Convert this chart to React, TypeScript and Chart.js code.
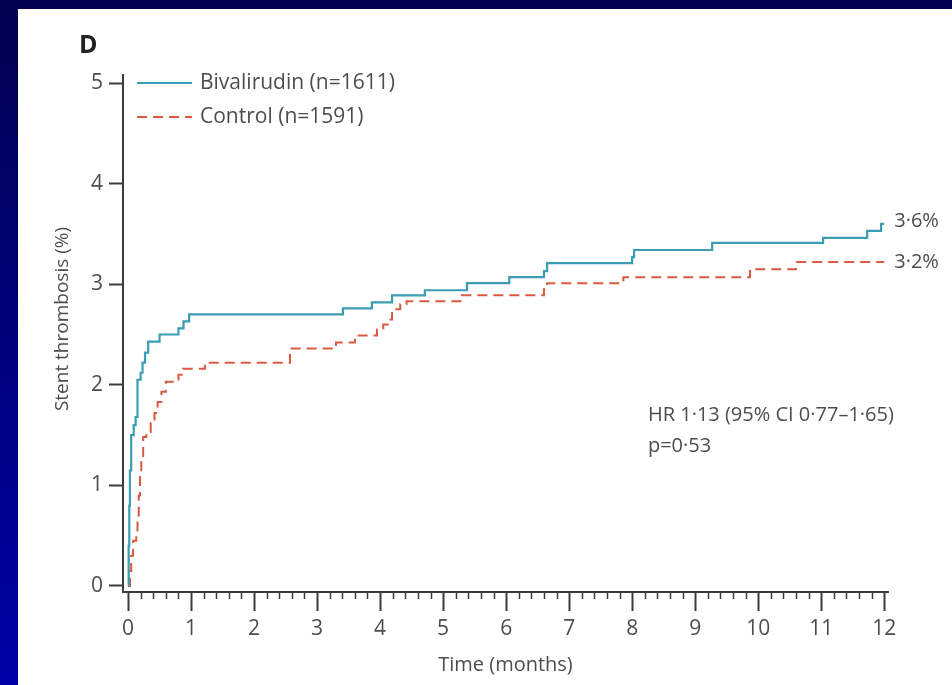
import React, { useEffect, useRef } from "react";
import { Chart, registerables } from "chart.js";

Chart.register(...registerables);

// ---- Data ----
const bivTimes = [0, 0.01, 0.02, 0.03, 0.05, 0.09, 0.12, 0.15, 0.2, 0.23, 0.27, 0.32, 0.5, 0.8, 0.88, 0.97, 3.41, 3.87, 4.19, 4.71, 5.38, 6.05, 6.6, 6.65, 8.0, 8.03, 9.27, 11.03, 11.73, 11.95, 12];
const bivValues = [0, 0.4, 0.8, 1.15, 1.5, 1.6, 1.68, 2.05, 2.12, 2.22, 2.32, 2.43, 2.5, 2.56, 2.63, 2.7, 2.76, 2.82, 2.89, 2.94, 3.01, 3.07, 3.13, 3.21, 3.27, 3.34, 3.41, 3.46, 3.53, 3.6, 3.6];
const ctlTimes = [0, 0.03, 0.05, 0.08, 0.13, 0.15, 0.17, 0.19, 0.21, 0.24, 0.29, 0.36, 0.42, 0.47, 0.53, 0.6, 0.8, 0.87, 1.22, 2.57, 3.3, 3.6, 3.95, 4.05, 4.12, 4.19, 4.32, 4.42, 5.3, 6.6, 6.65, 7.86, 9.87, 10.6, 12];
const ctlValues = [0, 0.15, 0.3, 0.45, 0.53, 0.7, 0.9, 1.1, 1.25, 1.48, 1.53, 1.62, 1.72, 1.83, 1.93, 2.03, 2.1, 2.16, 2.22, 2.36, 2.42, 2.49, 2.55, 2.6, 2.65, 2.75, 2.8, 2.83, 2.89, 2.95, 3.01, 3.07, 3.15, 3.22, 3.22];

const seriesLabels = ["Bivalirudin (n=1611)", "Control (n=1591)"];
const endLabels = ["3·6%", "3·2%"];
const statLines = ["HR 1·13 (95% CI 0·77–1·65)", "p=0·53"];
const panelLetter = "D";
const xTickValues = [0, 1, 2, 3, 4, 5, 6, 7, 8, 9, 10, 11, 12];
const yTickValues = [0, 1, 2, 3, 4, 5];
const xTitle = "Time (months)";
const yTitle = "Stent thrombosis (%)";
const minorTickStep = 0.2;

// ---- Style ----
const FONT = "'Open Sans', 'DejaVu Sans', sans-serif";
const TEXT = "#4d4d4d";
const AXIS = "#3c3c3c";
const TEAL = "#3a9db2";
const RED = "#d95a40";

const decorPlugin = {
  id: "decor",
  afterDraw(chart: any) {
    const ctx = chart.ctx as CanvasRenderingContext2D;
    const xs = chart.scales.x;
    const ys = chart.scales.y;
    const ca = chart.chartArea;
    ctx.save();

    // minor x ticks
    ctx.strokeStyle = AXIS;
    ctx.lineWidth = 1.5;
    ctx.beginPath();
    for (let v = 0; v < 12 - 1e-6; v += minorTickStep) {
      if (Math.abs(v - Math.round(v)) < 1e-6) continue;
      const px = Math.round(xs.getPixelForValue(v)) + 0.5;
      ctx.moveTo(px, xs.top);
      ctx.lineTo(px, xs.top + 7);
    }
    ctx.stroke();

    // legend (inside plot)
    ctx.font = `21px ${FONT}`;
    ctx.textBaseline = "middle";
    ctx.textAlign = "left";
    chart.data.datasets.forEach((ds: any, i: number) => {
      const y = ca.top + 8 + i * 34;
      ctx.beginPath();
      ctx.strokeStyle = ds.borderColor;
      ctx.lineWidth = 2;
      ctx.setLineDash(ds.borderDash || []);
      ctx.moveTo(ca.left + 14, y);
      ctx.lineTo(ca.left + 69, y);
      ctx.stroke();
      ctx.setLineDash([]);
      ctx.fillStyle = TEXT;
      ctx.fillText(ds.label, ca.left + 77, y);
    });

    // end labels
    ctx.font = `20px ${FONT}`;
    const ends = [bivValues[bivValues.length - 1], ctlValues[ctlValues.length - 1]];
    endLabels.forEach((t, i) => {
      const y = ys.getPixelForValue(ends[i]) - 3 + i * 3;
      ctx.fillText(t, xs.getPixelForValue(12) + 10, y);
    });

    // statistics text
    ctx.font = `20px ${FONT}`;
    statLines.forEach((t, i) => {
      ctx.fillText(t, xs.getPixelForValue(8.25), ys.getPixelForValue(1.7) + i * 31);
    });

    // panel letter
    ctx.font = `bold 25px ${FONT}`;
    ctx.fillStyle = "#222";
    ctx.fillText(panelLetter, 79, 46);

    // y title
    ctx.save();
    ctx.translate(63, 319);
    ctx.rotate(-Math.PI / 2);
    ctx.textAlign = "center";
    ctx.font = `19px ${FONT}`;
    ctx.fillStyle = TEXT;
    ctx.fillText(yTitle, 0, 0);
    ctx.restore();

    ctx.restore();
  },
};

export default function App() {
  const ref = useRef<HTMLCanvasElement | null>(null);

  useEffect(() => {
    if (!ref.current) return;
    const chart = new Chart(ref.current, {
      type: "line",
      data: {
        datasets: [
          {
            label: seriesLabels[0],
            data: bivTimes.map((t, i) => ({ x: t, y: bivValues[i] })),
            borderColor: TEAL,
            borderWidth: 2.2,
            pointRadius: 0,
            stepped: "before",
            fill: false,
          },
          {
            label: seriesLabels[1],
            data: ctlTimes.map((t, i) => ({ x: t, y: ctlValues[i] })),
            borderColor: RED,
            borderWidth: 2,
            borderDash: [10, 6],
            pointRadius: 0,
            stepped: "before",
            fill: false,
          },
        ],
      },
      options: {
        animation: false,
        responsive: false,
        maintainAspectRatio: false,
        layout: { padding: { left: 0, right: 64, top: 75, bottom: 0 } },
        plugins: { legend: { display: false }, tooltip: { enabled: false }, title: { display: false } },
        scales: {
          x: {
            type: "linear",
            min: -0.08,
            max: 12.06,
            afterBuildTicks: (s: any) => {
              s.ticks = xTickValues.map((v) => ({ value: v }));
            },
            afterFit: (s: any) => {
              s.height = 93;
            },
            ticks: {
              autoSkip: false,
              maxRotation: 0,
              padding: 5,
              color: TEXT,
              font: { family: FONT, size: 21 },
            },
            grid: { drawOnChartArea: false, drawTicks: true, tickLength: 19, tickColor: AXIS, tickWidth: 2 },
            border: { display: true, color: AXIS, width: 2 },
            title: {
              display: true,
              text: xTitle,
              color: TEXT,
              font: { family: FONT, size: 20 },
              padding: { top: 0, bottom: 8 },
            },
          },
          y: {
            type: "linear",
            min: -0.06,
            max: 5.08,
            afterBuildTicks: (s: any) => {
              s.ticks = yTickValues.map((v) => ({ value: v }));
            },
            afterFit: (s: any) => {
              s.width = 123;
            },
            ticks: {
              autoSkip: false,
              padding: 6,
              color: TEXT,
              font: { family: FONT, size: 21 },
            },
            grid: { drawOnChartArea: false, drawTicks: true, tickLength: 14, tickColor: AXIS, tickWidth: 2 },
            border: { display: true, color: AXIS, width: 2 },
          },
        },
      },
      plugins: [decorPlugin],
    });
    return () => chart.destroy();
  }, []);

  return (
    <div
      style={{
        position: "fixed",
        left: 0,
        top: 0,
        width: 952,
        height: 685,
        background: "linear-gradient(180deg, #00004e 0%, #000080 55%, #0000a6 100%)",
        overflow: "hidden",
      }}
    >
      <div style={{ position: "absolute", left: 18, top: 9, right: 0, bottom: 0, background: "#ffffff" }} />
      <canvas
        ref={ref}
        width={952}
        height={685}
        style={{ position: "absolute", left: 0, top: 0, width: 952, height: 685 }}
      />
    </div>
  );
}
